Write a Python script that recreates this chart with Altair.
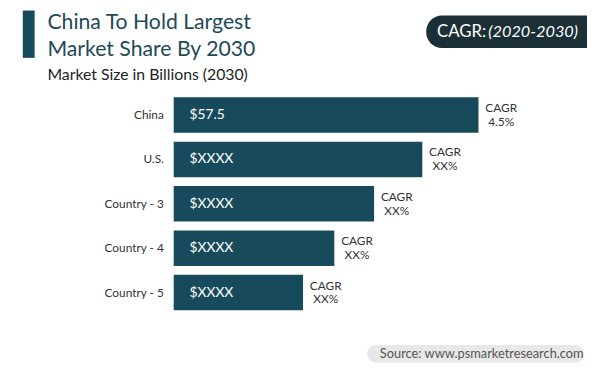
import altair as alt
import pandas as pd

countries = ["China", "U.S.", "Country - 3", "Country - 4", "Country - 5"]
values = [57.5, 46.9, 37.8, 30.3, 24.4]
value_labels = ["$57.5", "$XXXX", "$XXXX", "$XXXX", "$XXXX"]
cagr_labels = ["4.5%", "XX%", "XX%", "XX%", "XX%"]

title_lines = ["China To Hold Largest", "Market Share By 2030"]
subtitle = "Market Size in Billions (2030)"
cagr_header = "CAGR:"
cagr_period = "(2020-2030)"
source = "Source: www.psmarketresearch.com"

FONT = "Lato"
BAR = "#174b5b"
W, H = 587, 369

df = pd.DataFrame({"country": countries, "value": values,
                   "vlabel": value_labels, "cagr": cagr_labels,
                   "head": ["CAGR"] * len(countries)})

x = alt.X("value:Q", scale=alt.Scale(domain=[0, 57.5], range=[168, 477]), axis=None)
y = alt.Y("country:N", sort=countries,
          scale=alt.Scale(range=[88, 304], paddingInner=0.2, paddingOuter=0), axis=None)

base = alt.Chart(df)
bars = base.mark_bar(color=BAR).encode(x=x, x2=alt.datum(0), y=y)
vals = base.mark_text(color="white", font=FONT, fontSize=14, align="left",
                      baseline="middle").encode(x=alt.value(184), y=y, text="vlabel:N")
cats = base.mark_text(color="#333333", font=FONT, fontSize=12, align="right",
                      baseline="middle").encode(x=alt.value(158), y=y, text="country:N")
cagr1 = base.mark_text(color="#333333", font=FONT, fontSize=12, align="center",
                       baseline="middle", dx=23, dy=-7).encode(x=x, y=y, text="head:N")
cagr2 = base.mark_text(color="#333333", font=FONT, fontSize=12, align="center",
                       baseline="middle", dx=23, dy=7).encode(x=x, y=y, text="cagr:N")

one = alt.Chart(pd.DataFrame({"a": [0]}))
accent = one.mark_rect(color=BAR).encode(x=alt.value(15), x2=alt.value(27),
                                         y=alt.value(0), y2=alt.value(48))
t1 = one.mark_text(text=title_lines[0], font=FONT, fontSize=21.5, color="#1d4a57",
                   align="left", baseline="top").encode(x=alt.value(40), y=alt.value(2))
t2 = one.mark_text(text=title_lines[1], font=FONT, fontSize=21.5, color="#1d4a57",
                   align="left", baseline="alphabetic").encode(x=alt.value(40), y=alt.value(46))
st = one.mark_text(text=subtitle, font=FONT, fontSize=16, color="#222222",
                   align="left", baseline="middle").encode(x=alt.value(40), y=alt.value(65))
pill = one.mark_rect(color="#1b2f36", cornerRadius=16).encode(
    x=alt.value(424), x2=alt.value(620), y=alt.value(5), y2=alt.value(38))
ph1 = one.mark_text(text=cagr_header, font=FONT, fontSize=17, color="white",
                    align="left", baseline="middle").encode(x=alt.value(435), y=alt.value(22))
ph2 = one.mark_text(text=cagr_period, font=FONT, fontSize=16.5, color="white", fontStyle="italic",
                    align="left", baseline="middle").encode(x=alt.value(487), y=alt.value(22))
src_box = one.mark_rect(color="#e8e8e8", cornerRadius=9).encode(
    x=alt.value(364), x2=alt.value(584), y=alt.value(339), y2=alt.value(357))
src = one.mark_text(text=source, font=FONT, fontSize=13, color="#555555",
                    align="left", baseline="middle").encode(x=alt.value(377), y=alt.value(348))

chart = alt.layer(bars, vals, cats, cagr1, cagr2, accent, t1, t2, st, pill, ph1, ph2,
                  src_box, src).properties(
    width=W, height=H, autosize=alt.AutoSizeParams(type="none"), padding=0,
    background="white"
).configure_view(stroke=None)

chart.save("out.html", embed_options={"renderer": "svg", "actions": False})
